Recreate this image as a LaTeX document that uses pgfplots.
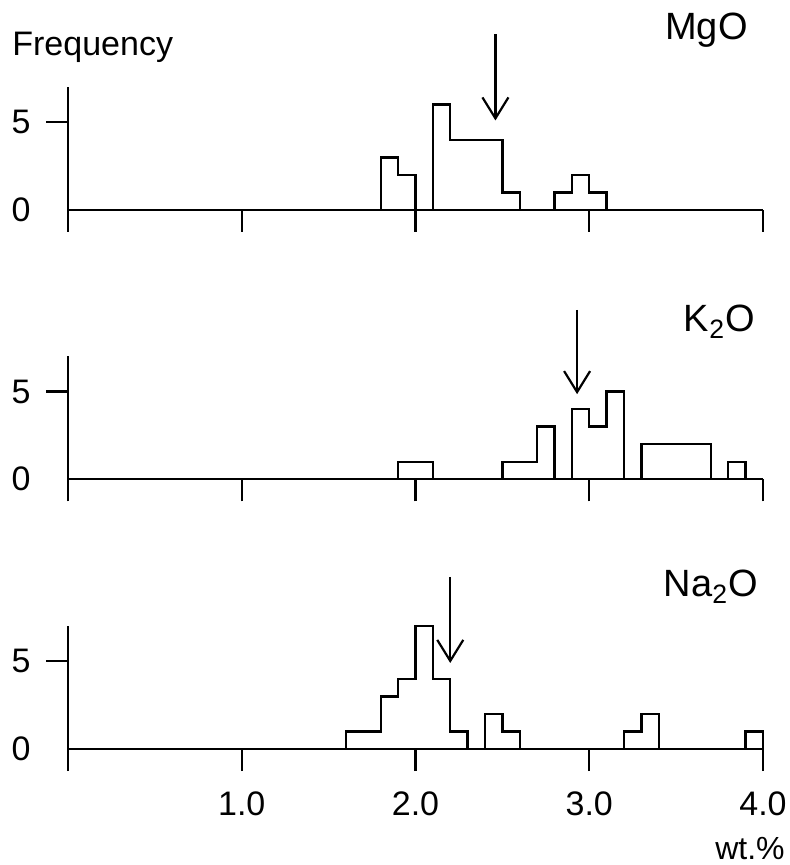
\documentclass[border=0pt]{standalone}
\usepackage{fontspec}
\setmainfont{Liberation Sans}
\usepackage{pgfplots}
\pgfplotsset{compat=1.18}
\usetikzlibrary{arrows.meta}

\pgfplotsset{
  panel/.style={
    anchor=south west,
    x=86.875pt, y=8.775pt,
    xmin=0, xmax=4, ymin=0, ymax=7,
    axis lines=left,
    axis line style={-, line width=1.1pt},
    tick align=outside,
    major tick length=11pt,
    tick style={line width=1.1pt, black},
    xtick={0,1,2,3,4},
    xticklabels={},
    ytick={5},
    extra y ticks={0},
    extra y tick style={major tick length=0pt, yticklabel style={xshift=-11pt}},
    /pgf/number format/assume math mode=true,
    every tick label/.append style={font=\fontsize{17}{19}\selectfont, inner sep=0pt},
    yticklabel style={xshift=-7.5pt},
    xticklabel style={yshift=-10pt},
    clip=false,
  },
  hist/.style={const plot mark left, no marks, black, line width=1.2pt},
  pointer/.style={no marks, black, line width=1.1pt, -{Straight Barb[length=10.5pt,width=13pt]}},
}

\begin{document}
\begin{tikzpicture}
\useasboundingbox (0,0) rectangle (394.5pt,432.5pt);

% MgO
\begin{axis}[panel, at={(34pt,327.5pt)}]
\addplot[hist] coordinates {
  (0,0) (1.8,3) (1.9,2) (2.0,0) (2.1,6) (2.2,4) (2.5,1) (2.6,0)
  (2.8,1) (2.9,2) (3.0,1) (3.1,0) (4,0)
};
\addplot[pointer] coordinates {(2.46,10.0) (2.46,5.1)};
\end{axis}

% K2O
\begin{axis}[panel, at={(34pt,192.85pt)}]
\addplot[hist] coordinates {
  (0,0) (1.9,1) (2.1,0) (2.5,1) (2.7,3) (2.8,0) (2.9,4) (3.0,3)
  (3.1,5) (3.2,0) (3.3,2) (3.7,0) (3.8,1) (3.9,0) (4,0)
};
\addplot[pointer] coordinates {(2.93,9.65) (2.93,4.85)};
\end{axis}

% Na2O
\begin{axis}[panel, at={(34pt,58pt)}, xticklabels={,1.0,2.0,3.0,4.0}]
\addplot[hist] coordinates {
  (0,0) (1.6,1) (1.8,3) (1.9,4) (2.0,7) (2.1,4) (2.2,1) (2.3,0)
  (2.4,2) (2.5,1) (2.6,0) (3.2,1) (3.3,2) (3.4,0) (3.9,1) (4,0)
};
\addplot[pointer] coordinates {(2.20,9.8) (2.20,4.9)};
\end{axis}

\node[anchor=base west, inner sep=0pt, font=\fontsize{17}{20}\selectfont] at (6pt,404.5pt) {Frequency};
\node[anchor=base east, inner sep=0pt, font=\fontsize{19}{22}\selectfont] at (374pt,412.5pt) {MgO};
\node[anchor=base east, inner sep=0pt, font=\fontsize{19}{22}\selectfont] at (377.5pt,266.7pt) {K\textsubscript{2}O};
\node[anchor=base east, inner sep=0pt, font=\fontsize{19}{22}\selectfont] at (379pt,134.2pt) {Na\textsubscript{2}O};
\node[anchor=base east, inner sep=0pt, font=\fontsize{16}{19}\selectfont] at (392.5pt,2.5pt) {wt.\%};
\end{tikzpicture}
\end{document}
